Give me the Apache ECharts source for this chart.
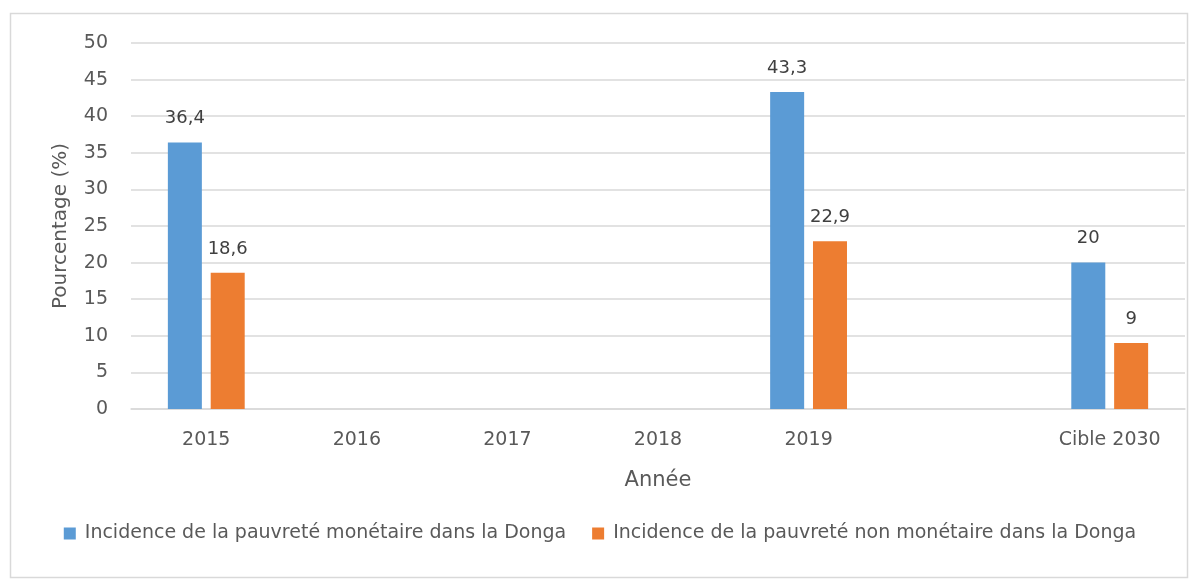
<!DOCTYPE html>
<html><head><meta charset="utf-8">
<script src="https://cdn.jsdelivr.net/npm/echarts@6/dist/echarts.min.js"></script>
<style>html,body{margin:0;padding:0;background:#fff}#c{width:1200px;height:580px}</style>
</head><body><div id="c"></div>
<script>
const categories = ['2015', '2016', '2017', '2018', '2019', '', 'Cible 2030'];
const monetaire = [36.4, null, null, null, 43.3, null, 20];
const nonMonetaire = [18.6, null, null, null, 22.9, null, 9];
const seriesNames = ['Incidence de la pauvreté monétaire dans la Donga', 'Incidence de la pauvreté non monétaire dans la Donga'];
const FONT = 'DejaVu Sans';
const fmt = p => String(p.value).replace('.', ',');
const chart = echarts.init(document.getElementById('c'));
chart.setOption({
  animation: false,
  textStyle: { fontFamily: FONT },
  graphic: [{ type: 'rect', shape: { x: 10.5, y: 13.5, width: 1177, height: 564 }, style: { fill: 'none', stroke: '#d9d9d9', lineWidth: 1.5 }, silent: true }],
  grid: { left: 131, right: 15, top: 43, bottom: 171 },
  legend: {
    top: 519, left: 'center', itemWidth: 12, itemHeight: 12, itemGap: 26, icon: 'rect',
    textStyle: { fontSize: 19, color: '#595959', fontFamily: FONT, padding: [0, 0, 0, 4] },
    data: seriesNames
  },
  xAxis: {
    type: 'category', data: categories,
    name: 'Année', nameLocation: 'middle', nameGap: 61,
    nameTextStyle: { fontSize: 21, color: '#595959', fontFamily: FONT },
    axisLine: { lineStyle: { color: '#d9d9d9', width: 1.5 } },
    axisTick: { show: false },
    axisLabel: { fontSize: 19, color: '#595959', margin: 22, fontFamily: FONT, interval: 0 }
  },
  yAxis: {
    type: 'value', min: 0, max: 50, interval: 5,
    name: 'Pourcentage (%)', nameLocation: 'middle', nameGap: 60, nameRotate: 90,
    nameTextStyle: { fontSize: 20, color: '#595959', fontFamily: FONT },
    axisLine: { show: false }, axisTick: { show: false },
    axisLabel: { fontSize: 19, color: '#595959', margin: 23, fontFamily: FONT },
    splitLine: { lineStyle: { color: '#d9d9d9', width: 1.5 } }
  },
  series: [
    { name: seriesNames[0], type: 'bar', data: monetaire, barWidth: 34, barGap: '26%',
      itemStyle: { color: '#5b9bd5' },
      label: { show: true, position: 'top', distance: 15, fontSize: 18, color: '#404040', formatter: fmt, fontFamily: FONT } },
    { name: seriesNames[1], type: 'bar', data: nonMonetaire, barWidth: 34,
      itemStyle: { color: '#ed7d31' },
      label: { show: true, position: 'top', distance: 15, fontSize: 18, color: '#404040', formatter: fmt, fontFamily: FONT } }
  ]
});
</script></body></html>
